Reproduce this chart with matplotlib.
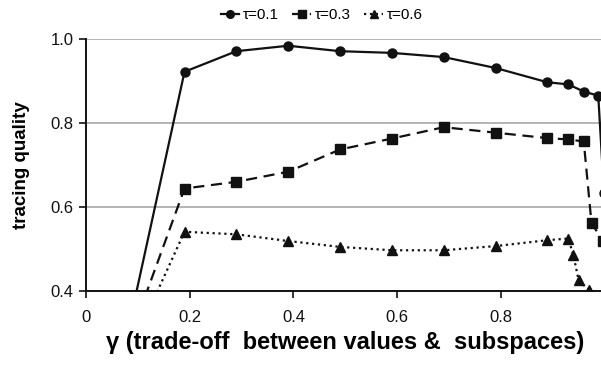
import numpy as np
import matplotlib
matplotlib.use('Agg')
import matplotlib.pyplot as plt

plt.rcParams['font.family'] = ['Liberation Sans', 'DejaVu Sans']

# ============ data ============
x_t01 = [0.09, 0.19, 0.29, 0.39, 0.49, 0.59, 0.69, 0.79, 0.89, 0.93, 0.96, 0.988, 0.999]
y_t01 = [0.357, 0.922, 0.971, 0.984, 0.971, 0.967, 0.957, 0.931, 0.897, 0.892, 0.875, 0.865, 0.633]

x_t03 = [0.09, 0.19, 0.29, 0.39, 0.49, 0.59, 0.69, 0.79, 0.89, 0.93, 0.96, 0.975, 0.997]
y_t03 = [0.306, 0.644, 0.660, 0.684, 0.737, 0.763, 0.790, 0.777, 0.764, 0.761, 0.756, 0.561, 0.52]

x_t06 = [0.09, 0.19, 0.29, 0.39, 0.49, 0.59, 0.69, 0.79, 0.89, 0.93, 0.94, 0.95, 0.97]
y_t06 = [0.27, 0.541, 0.535, 0.519, 0.505, 0.497, 0.497, 0.507, 0.521, 0.525, 0.486, 0.426, 0.402]

x_ticks = [0, 0.2, 0.4, 0.6, 0.8, 1.0]
x_ticklabels = ['0', '0.2', '0.4', '0.6', '0.8', '1']
y_ticks = [0.4, 0.6, 0.8, 1.0]
y_ticklabels = ['0.4', '0.6', '0.8', '1.0']

fig = plt.figure(figsize=(6.01, 3.66), dpi=100)
ax = fig.add_axes([0.1431, 0.2049, 0.8627, 0.6885])

c = '#111111'
ax.plot(x_t01, y_t01, '-', color=c, lw=1.6, marker='o', ms=6.5, label='τ=0.1')
ax.plot(x_t03, y_t03, '--', color=c, lw=1.6, marker='s', ms=6.5,
        dashes=(5, 3), label='τ=0.3')
ax.plot(x_t06, y_t06, ':', color=c, lw=1.6, marker='^', ms=7.5, label='τ=0.6')

ax.set_xlim(0, 1.0)
ax.set_ylim(0.4, 1.0)
ax.set_xticks(x_ticks)
ax.set_xticklabels(x_ticklabels, fontsize=12)
ax.set_yticks(y_ticks)
ax.set_yticklabels(y_ticklabels, fontsize=12)
ax.tick_params(axis='both', direction='out', length=5, width=1.2, colors=c)
ax.tick_params(axis='x', pad=9)
ax.tick_params(axis='y', pad=4)

ax.grid(axis='y', color='#a8a8a8', lw=1.2)
ax.set_axisbelow(True)
for s in ['top', 'right']:
    ax.spines[s].set_visible(False)
for s in ['left', 'bottom']:
    ax.spines[s].set_linewidth(1.4)
    ax.spines[s].set_color(c)

ax.set_xlabel('γ (trade-off  between values &  subspaces)', fontsize=17,
              fontweight='bold', labelpad=4)
ax.set_ylabel('tracing quality', fontsize=13.5, fontweight='bold', labelpad=15)

fig.legend(loc='upper center', bbox_to_anchor=(0.535, 1.015), ncol=3,
           frameon=False, fontsize=11, handlelength=1.2, handletextpad=0.25,
           columnspacing=0.9, markerscale=0.85)

fig.savefig('out.png', dpi=100)
